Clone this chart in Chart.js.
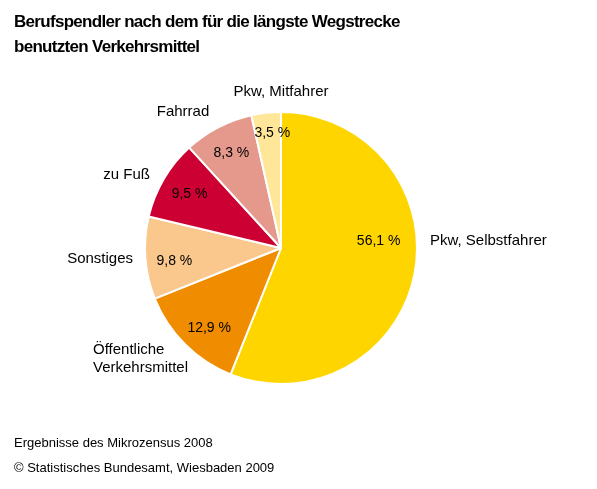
<!DOCTYPE html>
<html>
<head>
<meta charset="utf-8">
<script src="https://cdn.jsdelivr.net/npm/chart.js@4.4.1/dist/chart.umd.min.js"></script>
<style>
  body { margin: 0; background: #fff; font-family: "Liberation Sans", Arial, sans-serif; }
  #wrap { position: relative; width: 597px; height: 489px; }
  canvas { position: absolute; left: 0; top: 0; }
  .title { position: absolute; left: 14px; top: 9px; font-size: 17px; font-weight: bold; line-height: 25px; letter-spacing: -0.7px; color: #000; }
  .foot { position: absolute; left: 14px; font-size: 13px; color: #000; }
</style>
</head>
<body>
<div id="wrap">
  <canvas id="pie" width="597" height="489"></canvas>
  <div class="title">Berufspendler nach dem für die längste Wegstrecke<br>benutzten Verkehrsmittel</div>
  <div class="foot" style="top:435px">Ergebnisse des Mikrozensus 2008</div>
  <div class="foot" style="top:460px">© Statistisches Bundesamt, Wiesbaden 2009</div>
</div>
<script>
// data
const categories = ["Pkw, Selbstfahrer", "Öffentliche\nVerkehrsmittel", "Sonstiges", "zu Fuß", "Fahrrad", "Pkw, Mitfahrer"];
const shares = [56.1, 12.9, 9.8, 9.5, 8.3, 3.5];
const colours = ["#FFD500", "#F08C00", "#FAC88C", "#CC0033", "#E5998C", "#FFE699"];

// label placement (value label: radius factor + angle shift in degrees; name label: offset from centre + align)
const valueRadius = [0.72, 0.79, 0.79, 0.78, 0.79, 0.85];
const valueShift = [-15, -3, -3, 0, 0, 2];
const nameOffset = [[149, -7, "left"], [-188, 111, "left"], [-148, 11, "right"], [-131, -73, "right"], [-98, -136, "center"], [0, -156, "center"]];

const sliceLabels = {
  id: "sliceLabels",
  afterDatasetsDraw(chart) {
    const ctx = chart.ctx;
    const arcs = chart.getDatasetMeta(0).data;
    ctx.save();
    ctx.fillStyle = "#000";
    ctx.textBaseline = "middle";
    arcs.forEach((arc, i) => {
      const mid = (arc.startAngle + arc.endAngle) / 2 + valueShift[i] * Math.PI / 180;
      const r = arc.outerRadius * valueRadius[i];
      ctx.font = "14px 'Liberation Sans', Arial, sans-serif";
      ctx.textAlign = "center";
      ctx.fillText(shares[i].toFixed(1).replace(".", ",") + " %", arc.x + Math.cos(mid) * r, arc.y + Math.sin(mid) * r);
      const [dx, dy, al] = nameOffset[i];
      ctx.font = "15px 'Liberation Sans', Arial, sans-serif";
      ctx.textAlign = al;
      const lines = categories[i].split("\n");
      lines.forEach((ln, k) => {
        ctx.fillText(ln, arc.x + dx, arc.y + dy + (k - (lines.length - 1) / 2) * 18);
      });
    });
    ctx.restore();
  }
};

new Chart(document.getElementById("pie").getContext("2d"), {
  type: "pie",
  data: {
    labels: categories,
    datasets: [{
      data: shares,
      backgroundColor: colours,
      borderColor: "#fff",
      borderWidth: 2
    }]
  },
  options: {
    responsive: false,
    animation: false,
    layout: { padding: { left: 144, right: 179, top: 111, bottom: 104 } },
    plugins: { legend: { display: false }, tooltip: { enabled: false } }
  },
  plugins: [sliceLabels]
});
</script>
</body>
</html>
